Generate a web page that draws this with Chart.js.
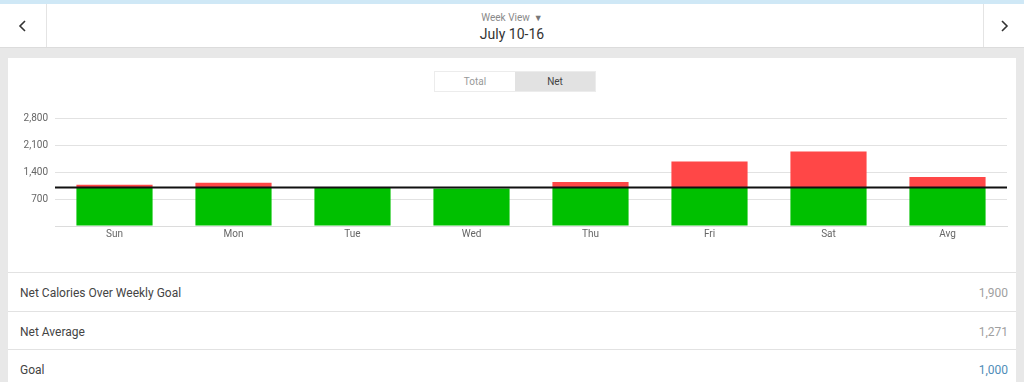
<!DOCTYPE html>
<html>
<head>
<meta charset="utf-8">
<script src="https://cdn.jsdelivr.net/npm/chart.js@4.4.0/dist/chart.umd.min.js"></script>
<style>
  html,body{margin:0;padding:0;}
  body{width:1024px;height:382px;background:#e8e8e8;font-family:Roboto,"Noto Sans",sans-serif;position:relative;overflow:hidden;}
  #topband{position:absolute;left:0;top:0;width:1024px;height:4px;background:#cfe8f6;}
  #header{position:absolute;left:0;top:4px;width:1024px;height:43px;background:#fff;border-bottom:1px solid #dcdcdc;}
  .navbtn{position:absolute;top:0;height:43px;}
  #prev{left:0;width:46px;border-right:1px solid #e4e4e4;}
  #next{left:983px;width:41px;border-left:1px solid #e4e4e4;}
  .navbtn svg{position:absolute;top:16px;}
  #weekview{position:absolute;left:0;width:1024px;top:8px;text-align:center;font-size:10px;color:#8a8a8a;}
  #weekview .tri{font-size:9px;margin-left:4px;color:#777;}
  #date{position:absolute;left:0;width:1024px;top:22px;text-align:center;font-size:14px;color:#333;}
  #card{position:absolute;left:8px;top:58px;width:1008px;height:330px;background:#fff;}
  #toggle{position:absolute;left:426px;top:13px;width:160px;height:19px;border:1px solid #ececec;font-size:10px;}
  #toggle div{position:absolute;top:0;height:19px;line-height:19px;width:80px;text-align:center;}
  #tTotal{left:0;color:#999;background:#fff;}
  #tNet{left:80px;color:#444;background:#e2e2e2;}
  #chartwrap{position:absolute;left:0;top:47px;width:1000px;height:141px;}
  .row{position:absolute;left:0;width:1008px;height:38px;border-top:1px solid #e2e2e2;font-size:12px;}
  .row .lbl{position:absolute;left:12px;top:13px;color:#444;}
  .row .val{position:absolute;right:8px;top:13px;color:#a0a0a0;}
</style>
</head>
<body>
<div id="topband"></div>
<div id="header">
  <div id="prev" class="navbtn"><svg width="46" height="12" viewBox="0 0 46 12"><polyline points="25,1 20,6 25,11" fill="none" stroke="#333" stroke-width="1.6"/></svg></div>
  <div id="weekview">Week View<span class="tri">&#9660;</span></div>
  <div id="date">July 10-16</div>
  <div id="next" class="navbtn"><svg width="41" height="12" viewBox="0 0 41 12"><polyline points="18,1 23,6 18,11" fill="none" stroke="#333" stroke-width="1.6"/></svg></div>
</div>
<div id="card">
  <div id="toggle"><div id="tTotal">Total</div><div id="tNet">Net</div></div>
  <div id="chartwrap"><canvas id="c"></canvas></div>
  <div class="row" style="top:214px"><span class="lbl">Net Calories Over Weekly Goal</span><span class="val">1,900</span></div>
  <div class="row" style="top:253px"><span class="lbl">Net Average</span><span class="val">1,271</span></div>
  <div class="row" style="top:291px"><span class="lbl">Goal</span><span class="val" style="color:#4f8db8">1,000</span></div>
</div>
<script>
const categories = ["Sun","Mon","Tue","Wed","Thu","Fri","Sat","Avg"];
const netCalories = [1070, 1120, 995, 970, 1140, 1670, 1932, 1271];
const goal = 1000;
const yTicks = [0, 700, 1400, 2100, 2800];

const underGoal = netCalories.map(v => Math.min(v, goal));
const overGoal = netCalories.map(v => Math.max(v - goal, 0));

const goalLine = {
  id: 'goalLine',
  afterDatasetsDraw(chart) {
    const {ctx, chartArea, scales} = chart;
    const y = scales.y.getPixelForValue(goal);
    ctx.save();
    ctx.strokeStyle = '#111';
    ctx.lineWidth = 2;
    ctx.beginPath();
    ctx.moveTo(chartArea.left, y);
    ctx.lineTo(chartArea.right, y);
    ctx.stroke();
    ctx.restore();
  }
};

new Chart(document.getElementById('c'), {
  type: 'bar',
  data: {
    labels: categories,
    datasets: [
      {label: 'Under', data: underGoal, backgroundColor: '#00c000', categoryPercentage: 0.8, barPercentage: 0.8, borderWidth: 0},
      {label: 'Over', data: overGoal, backgroundColor: '#ff4747', categoryPercentage: 0.8, barPercentage: 0.8, borderWidth: 0}
    ]
  },
  options: {
    responsive: true,
    maintainAspectRatio: false,
    animation: false,
    layout: {padding: {top: 12, right: 1, bottom: 0, left: 0}},
    plugins: {legend: {display: false}, tooltip: {enabled: false}},
    scales: {
      x: {
        stacked: true,
        grid: {display: false, drawTicks: false},
        border: {display: true, color: '#dcdcdc'},
        ticks: {color: '#666', font: {family: 'Roboto', size: 10}, padding: 2},
        afterFit(s) { s.height = 20; }
      },
      y: {
        stacked: true,
        min: 0,
        max: 2800,
        afterBuildTicks(s) { s.ticks = yTicks.map(v => ({value: v})); },
        grid: {color: '#e2e2e2', drawTicks: false},
        border: {display: false},
        ticks: {
          color: '#666', font: {family: 'Roboto', size: 10}, padding: 7,
          callback: v => v === 0 ? '' : v.toLocaleString('en-US')
        },
        afterFit(s) { s.width = 47; }
      }
    }
  },
  plugins: [goalLine]
});
</script>
</body>
</html>
